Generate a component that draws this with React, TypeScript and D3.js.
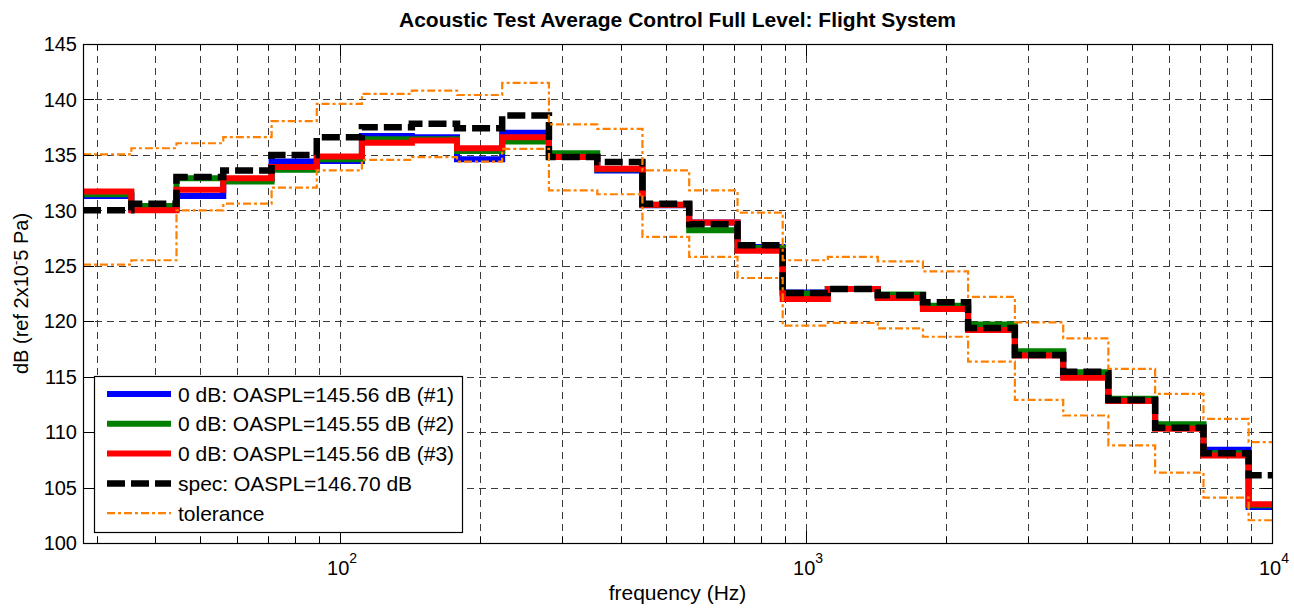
import React from 'react';
import * as d3 from 'd3';

// 1/3 octave band centres (Hz)
const bands = [31.5, 40, 50, 63, 80, 100, 125, 160, 200, 250, 315, 400, 500, 630, 800,
  1000, 1250, 1600, 2000, 2500, 3150, 4000, 5000, 6300, 8000, 10000];

// control levels, dB
const run1 = [131.3, 130.1, 131.3, 132.8, 134.4, 134.45, 136.7, 136.6, 134.6, 137.0, 134.8, 133.6, 130.45,
  128.9, 126.7, 122.6, 122.9, 122.2, 121.2, 119.4, 117.0, 115.1, 112.9, 110.5, 108.4, 103.25];
const run2 = [131.45, 130.4, 132.9, 132.6, 133.65, 134.6, 136.4, 136.4, 135.35, 136.2, 135.15, 133.7, 130.5,
  128.2, 126.6, 122.5, 122.9, 122.4, 121.4, 119.7, 117.3, 115.4, 113.0, 110.7, 108.1, 103.4];
const run3 = [131.7, 130.0, 131.85, 132.9, 133.9, 134.85, 136.1, 136.3, 135.6, 136.6, 134.8, 133.75, 130.5,
  128.9, 126.35, 122.0, 122.9, 122.1, 121.1, 119.2, 116.9, 114.9, 112.8, 110.3, 107.9, 103.5];
const spec = [130.0, 130.6, 133.0, 133.6, 135.0, 136.6, 137.5, 137.8, 137.4, 138.55, 134.8, 134.35, 130.6,
  128.75, 126.85, 122.55, 122.9, 122.35, 121.7, 119.4, 116.95, 115.45, 112.9, 110.4, 108.1, 106.1];
const tolUpper = [135.05, 135.6, 136.05, 136.6, 138.05, 139.6, 140.5, 140.8, 140.4, 141.5, 137.75, 137.35, 133.6,
  131.8, 129.8, 125.5, 125.8, 125.4, 124.5, 122.2, 119.9, 118.45, 115.7, 113.45, 111.2, 109.1];
const tolLower = [125.1, 125.5, 130.0, 130.6, 132.05, 133.6, 134.55, 134.8, 134.4, 135.55, 131.8, 131.45, 127.6,
  125.8, 123.9, 119.6, 119.85, 119.35, 118.6, 116.35, 112.9, 111.5, 108.8, 106.35, 104.1, 102.05];

const yTicks = [100, 105, 110, 115, 120, 125, 130, 135, 140, 145];
const xMajor = [100, 1000, 10000];

const legendItems = [
  { label: '0 dB: OASPL=145.56 dB (#1)', color: '#0000ff', width: 6, dash: 'none' },
  { label: '0 dB: OASPL=145.55 dB (#2)', color: '#008000', width: 6, dash: 'none' },
  { label: '0 dB: OASPL=145.56 dB (#3)', color: '#ff0000', width: 6, dash: 'none' },
  { label: 'spec: OASPL=146.70 dB', color: '#000000', width: 6.5, dash: '18,6' },
  { label: 'tolerance', color: '#ff8000', width: 2.2, dash: '8,3,3,3' },
];

const W = 1294, H = 608;
const left = 83, right = 1272, top = 44, bottom = 543;
const font = '"Liberation Sans", Arial, sans-serif';
const half = Math.pow(2, 1 / 6);
const fMin = bands[0] / half;
const fMax = 10000;

const x = d3.scaleLog().domain([fMin, fMax]).range([left, right]);
const y = d3.scaleLinear().domain([100, 145]).range([bottom, top]);

const stepPath = (vals: number[]) => {
  const pts: [number, number][] = bands.map((f, i) => [Math.max(f / half, fMin), vals[i]]);
  pts.push([fMax, vals[vals.length - 1]]);
  return d3.line<[number, number]>()
    .x(d => x(d[0]))
    .y(d => y(d[1]))
    .curve(d3.curveStepAfter)(pts) || '';
};

const App = () => {
  const xTicks = x.ticks().filter(t => t > fMin && t <= fMax);
  const isMajor = (t: number) => Math.abs(Math.log10(t) - Math.round(Math.log10(t))) < 1e-6;
  const gridStyle = { stroke: '#3a3a3a', strokeWidth: 1, strokeDasharray: '7,5', shapeRendering: 'crispEdges' as const };

  return (
    <svg width={W} height={H} style={{ position: 'absolute', left: 0, top: 0, background: '#fff' }} fontFamily={font}>
      <defs>
        <clipPath id="plotArea">
          <rect x={left} y={top} width={right - left} height={bottom - top} />
        </clipPath>
      </defs>
      <rect x={0} y={0} width={W} height={H} fill="#fff" />

      {/* grid */}
      {xTicks.filter(t => t < fMax).map(t => (
        <line key={'gx' + t} x1={Math.round(x(t)) + 0.5} x2={Math.round(x(t)) + 0.5} y1={top} y2={bottom} {...gridStyle} />
      ))}
      {yTicks.filter(v => v > 100 && v < 145).map(v => (
        <line key={'gy' + v} x1={left} x2={right} y1={Math.round(y(v)) + 0.5} y2={Math.round(y(v)) + 0.5} {...gridStyle} />
      ))}

      {/* data */}
      <g clipPath="url(#plotArea)" fill="none">
        <path d={stepPath(run1)} stroke="#0000ff" strokeWidth={6} />
        <path d={stepPath(run2)} stroke="#008000" strokeWidth={6} />
        <path d={stepPath(run3)} stroke="#ff0000" strokeWidth={6} />
        <path d={stepPath(spec)} stroke="#000" strokeWidth={6.5} strokeDasharray="18,6" />
        <path d={stepPath(tolUpper)} stroke="#ff8000" strokeWidth={2.2} strokeDasharray="8,3,3,3" />
        <path d={stepPath(tolLower)} stroke="#ff8000" strokeWidth={2.2} strokeDasharray="8,3,3,3" />
      </g>

      {/* ticks */}
      {xTicks.map(t => {
        const len = isMajor(t) ? 12 : 6;
        const xx = Math.round(x(t)) + 0.5;
        return (
          <g key={'tx' + t} stroke="#000" strokeWidth={1}>
            <line x1={xx} x2={xx} y1={bottom} y2={bottom - len} />
            <line x1={xx} x2={xx} y1={top} y2={top + len} />
          </g>
        );
      })}
      {yTicks.map(v => {
        const yy = Math.round(y(v)) + 0.5;
        return (
          <g key={'ty' + v} stroke="#000" strokeWidth={1}>
            <line x1={left} x2={left + 11} y1={yy} y2={yy} />
            <line x1={right} x2={right - 11} y1={yy} y2={yy} />
          </g>
        );
      })}

      {/* axes box */}
      <rect x={left + 0.5} y={top + 0.5} width={right - left} height={bottom - top} fill="none" stroke="#000" strokeWidth={1.2} />

      {/* tick labels */}
      {yTicks.map(v => (
        <text key={'ly' + v} x={77} y={y(v)} dy="0.36em" textAnchor="end" fontSize={20} fill="#000">{v}</text>
      ))}
      {xMajor.map(t => (
        <text key={'lx' + t} x={x(t) + 2} y={575} textAnchor="middle" fontSize={20} fill="#000">
          10<tspan dy={-12} fontSize={14}>{Math.round(Math.log10(t))}</tspan>
        </text>
      ))}

      {/* labels */}
      <text x={(left + right) / 2} y={27} textAnchor="middle" fontSize={21} fontWeight="bold">
        Acoustic Test Average Control Full Level: Flight System
      </text>
      <text x={(left + right) / 2} y={600} textAnchor="middle" fontSize={21}>frequency (Hz)</text>
      <text transform={`translate(28,${(top + bottom) / 2}) rotate(-90)`} textAnchor="middle" fontSize={20}>
        dB (ref 2x10<tspan fontSize={13} dy={-8}>-</tspan><tspan dy={8}>5 Pa)</tspan>
      </text>

      {/* legend */}
      <g>
        <rect x={94.5} y={376.5} width={368} height={156} fill="#fff" stroke="#000" strokeWidth={1.2} />
        {legendItems.map((it, i) => {
          const ry = 394 + i * 29.8;
          return (
            <g key={it.label}>
              <line x1={107} x2={171} y1={ry} y2={ry} stroke={it.color} strokeWidth={it.width}
                strokeDasharray={it.dash === 'none' ? undefined : it.dash} />
              <text x={178} y={ry} dy="0.36em" fontSize={21}>{it.label}</text>
            </g>
          );
        })}
      </g>
    </svg>
  );
};

export default App;
